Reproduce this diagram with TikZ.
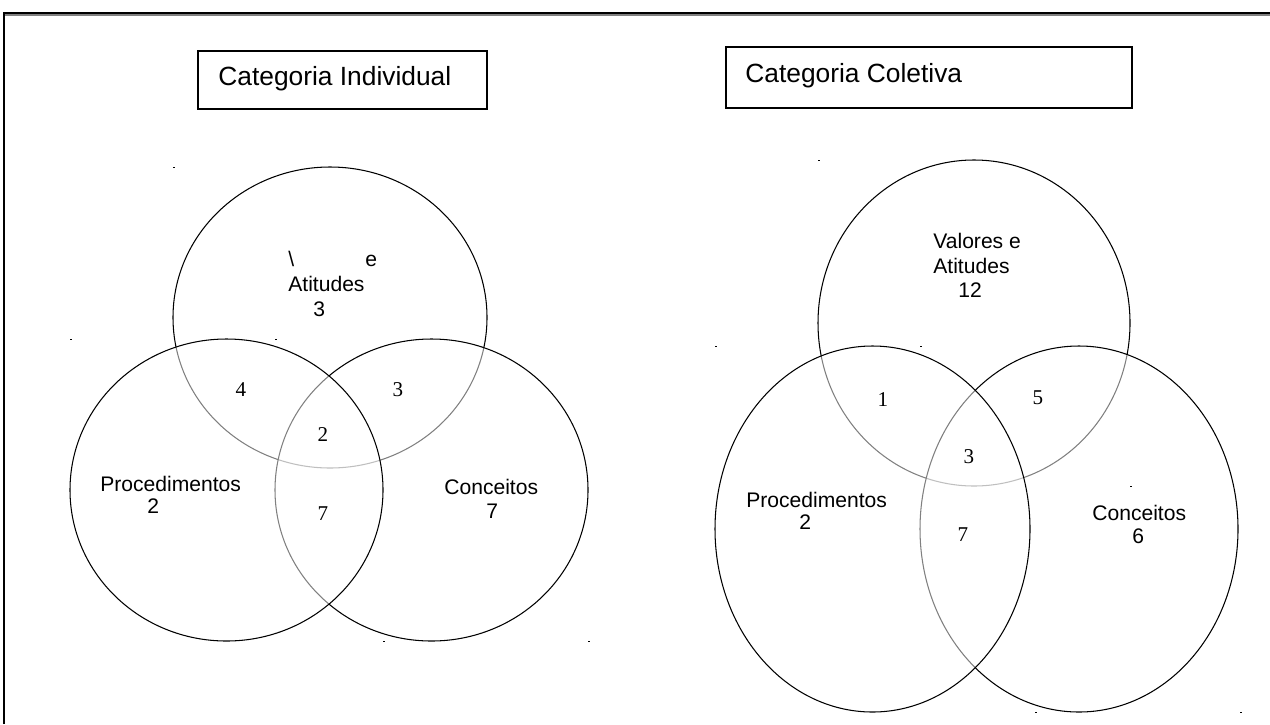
\documentclass[tikz,border=0pt]{standalone}
\usepackage{fontspec}
\setmainfont{Liberation Sans}
\newfontfamily\numfont{Liberation Serif}
\tikzset{
  venn/.style={draw,line width=0.6pt,fill=white,fill opacity=0.5},
  titlebox/.style={draw,line width=1.1pt},
  ttl/.style={inner sep=0pt,anchor=base west,font=\fontsize{15}{18}\selectfont},
  lbl/.style={inner sep=0pt,anchor=base west,font=\fontsize{12}{14}\selectfont},
  cnt/.style={inner sep=0pt,font=\numfont\fontsize{12}{14}\selectfont}
}
\def\rx{157}
\def\ry{151}
\def\ryy{183}

\begin{document}
\begin{tikzpicture}[x=0.02cm,y=-0.02cm]
  \useasboundingbox (0,0) rectangle (1270,724);

  % Frame
  \draw[gray,line width=0.9pt] (4,15) -- (1270,15);
  \draw[line width=0.8pt] (4,724) -- (4,13) -- (1270,13);

  % Titles
  \draw[titlebox] (198,51) rectangle (487,109);
  \node[ttl] (tInd) at (218,85) {Categoria Individual};
  \draw[titlebox] (726,47) rectangle (1132,108);
  \node[ttl] (tCol) at (745,82) {Categoria Coletiva};

  % Individual
  \draw[venn] (330,317.5) ellipse [x radius=\rx, y radius=150.5];
  \draw[venn] (431.5,490) ellipse [x radius=156.5, y radius=\ry];
  \draw[venn] (226.5,490) ellipse [x radius=156.5, y radius=\ry];

  % Coletiva
  \draw[venn] (974,323) ellipse [x radius=156, y radius=163];
  \draw[venn] (1079,529) ellipse [x radius=159, y radius=\ryy];
  \draw[venn] (872.5,529) ellipse [x radius=157.5, y radius=\ryy];

  % Specks
  \foreach \p in {(173,167),(70,339),(275,339),(383,641),(588,641),
                  (818,160),(715,346),(920,346),(1130,486),(1035,712),(1240,712)}
    \fill \p rectangle ++(1.8,1.2);

  % Labels, individual
  \node[lbl] (iVa) at (288,266) {\textbackslash};
  \node[lbl] (iVb) at (365,266) {e};
  \node[lbl] (iAt) at (288,291) {Atitudes};
  \node[lbl] (iAtN) at (313,316) {3};
  \node[lbl] (iPr) at (100,491) {Procedimentos};
  \node[lbl] (iPrN) at (147,513) {2};
  \node[lbl] (iCo) at (444,494) {Conceitos};
  \node[lbl] (iCoN) at (486,518) {7};
  \node[cnt] (iAP) at (241,390) {4};
  \node[cnt] (iAC) at (398,390) {3};
  \node[cnt] (iAll) at (323,435) {2};
  \node[cnt] (iPC) at (323,514) {7};

  % Labels, coletiva
  \node[lbl] (cVa) at (933,248) {Valores e};
  \node[lbl] (cAt) at (933,273) {Atitudes};
  \node[lbl] (cAtN) at (958,297) {12};
  \node[lbl] (cPr) at (746,507) {Procedimentos};
  \node[lbl] (cPrN) at (799,529) {2};
  \node[lbl] (cCo) at (1092,520) {Conceitos};
  \node[lbl] (cCoN) at (1132,543) {6};
  \node[cnt] (cAP) at (883,400) {1};
  \node[cnt] (cAC) at (1038,398) {5};
  \node[cnt] (cAll) at (969,457) {3};
  \node[cnt] (cPC) at (963,535) {7};
\end{tikzpicture}
\end{document}
